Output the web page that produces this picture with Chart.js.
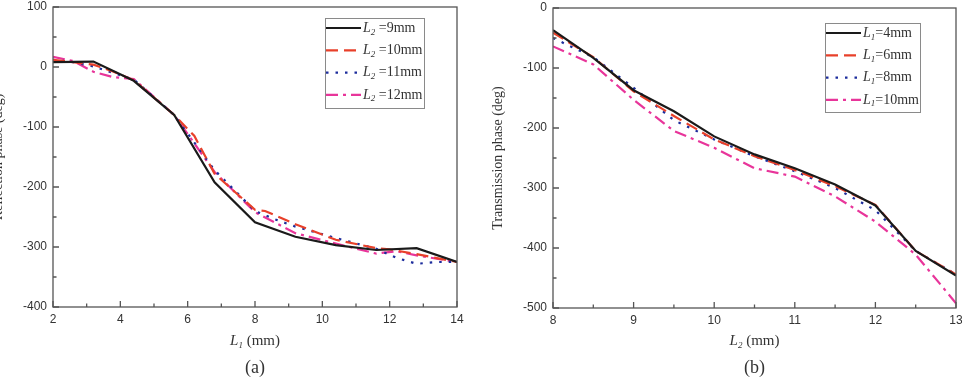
<!DOCTYPE html>
<html>
<head>
<meta charset="utf-8">
<script src="https://cdn.jsdelivr.net/npm/chart.js@4/dist/chart.umd.min.js"></script>
<style>
  html, body { margin: 0; padding: 0; background: #fff; overflow: hidden; }
  body { width: 962px; height: 382px; position: relative; }
  .panel { position: absolute; top: 0; }
  #boxA { left: -10px; }
  #boxB { left: 480px; }
</style>
</head>
<body>
<div class="panel" id="boxA"><canvas id="chartA" width="490" height="382"></canvas></div>
<div class="panel" id="boxB"><canvas id="chartB" width="482" height="382"></canvas></div>
<script>
// ---- panel (a): reflection phase vs L1 ----
var a_labels = ['L2 =9mm', 'L2 =10mm', 'L2 =11mm', 'L2 =12mm'];
var a_x9 = [2, 3.2, 4.4, 5.6, 6.8, 8, 9.2, 10.4, 11.6, 12.8, 14];
var a_y9 = [8, 9, -23, -80, -192, -259, -283, -297, -305, -302, -325];
var a_x10 = [2, 3.2, 3.8, 4.4, 5.6, 6.2, 6.8, 8, 8.3, 9.2, 10.4, 11.6, 12, 12.8, 14];
var a_y10 = [12, 4, -8, -22, -80, -115, -178, -238, -240, -262, -288, -302, -304, -312, -325];
var a_x11 = [2, 2.6, 3.2, 3.8, 4.4, 5.6, 6.8, 8, 8.6, 9.2, 10.4, 11.6, 12.2, 12.8, 13.4, 14];
var a_y11 = [12, 8, 1, -10, -21, -80, -172, -240, -254, -266, -285, -303, -318, -328, -325, -325];
var a_x12 = [2, 2.6, 3.2, 3.8, 4.4, 5.6, 6.8, 8, 9.2, 10.1, 11.6, 12.2, 12.8, 14];
var a_y12 = [17, 10, -8, -17, -20, -80, -175, -242, -277, -290, -311, -307, -314, -325];
var a_xTicks = [2, 4, 6, 8, 10, 12, 14];
var a_yTicks = [100, 0, -100, -200, -300, -400];

// ---- panel (b): transmission phase vs L2 ----
var b_labels = ['L1=4mm', 'L1=6mm', 'L1=8mm', 'L1=10mm'];
var b_x = [8, 8.5, 9, 9.5, 10, 10.5, 11, 11.5, 12, 12.5, 13];
var b_y4 = [-37, -83, -137, -172, -214, -244, -267, -294, -329, -405, -446];
var b_y6 = [-41, -82, -139, -180, -219, -247, -270, -297, -328, -405, -444];
var b_y8 = [-50, -82, -133, -187, -219, -247, -272, -300, -337, -405, -444];
var b_y10 = [-64, -94, -153, -205, -233, -267, -281, -314, -356, -411, -492];
var b_xTicks = [8, 9, 10, 11, 12, 13];
var b_yTicks = [0, -100, -200, -300, -400, -500];

var colors = ['#1a1a1a', '#e8402a', '#1c2c9c', '#e8359a'];
var dashes = [[], [12, 6], [2.5, 7], [12, 5, 3, 5]];
var serif = '"Liberation Serif", "Times New Roman", serif';
var sans = '"Liberation Sans", Arial, sans-serif';

function pts(xs, ys) {
  return xs.map((x, i) => ({ x: x, y: ys[i] }));
}

function makeSets(labels, series) {
  return series.map((s, i) => ({
    label: labels[i],
    data: s,
    borderColor: colors[i],
    borderDash: dashes[i],
    borderWidth: 2.2,
    pointRadius: 0,
    tension: 0,
    fill: false
  }));
}

// L + subscript digit + rest
function drawRich(ctx, str, x, y, size, align) {
  var parts = [
    { t: str[0], f: 'italic ' + size + 'px ' + serif, dy: 0 },
    { t: str[1], f: 'italic ' + Math.round(size * 0.62) + 'px ' + serif, dy: size * 0.3 },
    { t: str.slice(2), f: size + 'px ' + serif, dy: 0 }
  ];
  var w = 0;
  parts.forEach(p => { ctx.font = p.f; p.w = ctx.measureText(p.t).width; w += p.w; });
  var cx = align === 'center' ? x - w / 2 : x;
  ctx.textAlign = 'left';
  ctx.textBaseline = 'middle';
  parts.forEach(p => { ctx.font = p.f; ctx.fillText(p.t, cx, y + p.dy); cx += p.w; });
}

var framePlugin = {
  id: 'frame',
  afterDatasetsDraw(chart, args, opts) {
    var ctx = chart.ctx, a = chart.chartArea;
    var xs = chart.scales.x, ys = chart.scales.y;
    ctx.save();
    ctx.strokeStyle = '#555';
    ctx.lineWidth = 1.3;
    ctx.setLineDash([]);
    ctx.strokeRect(a.left, a.top, a.right - a.left, a.bottom - a.top);
    ctx.beginPath();
    var xt = opts.xTicks, yt = opts.yTicks;
    xt.forEach((v, i) => {
      var p = xs.getPixelForValue(v);
      ctx.moveTo(p, a.bottom); ctx.lineTo(p, a.bottom - 6);
      if (i < xt.length - 1) {
        var m = xs.getPixelForValue((v + xt[i + 1]) / 2);
        ctx.moveTo(m, a.bottom); ctx.lineTo(m, a.bottom - 3.5);
      }
    });
    yt.forEach((v, i) => {
      var p = ys.getPixelForValue(v);
      ctx.moveTo(a.left, p); ctx.lineTo(a.left + 6, p);
      if (i < yt.length - 1) {
        var m = ys.getPixelForValue((v + yt[i + 1]) / 2);
        ctx.moveTo(a.left, m); ctx.lineTo(a.left + 3.5, m);
      }
    });
    ctx.stroke();

    // x title and panel tag
    ctx.fillStyle = '#333';
    var mid = (a.left + a.right) / 2;
    drawRich(ctx, opts.xTitle, mid, 341, 15, 'center');
    ctx.font = '18px ' + serif;
    ctx.textAlign = 'center';
    ctx.textBaseline = 'middle';
    ctx.fillText(opts.tag, mid, 368);

    // legend box
    var bx = a.right - opts.legRight - opts.legW, by = a.top + opts.legTop;
    ctx.strokeStyle = '#8a8a8a';
    ctx.lineWidth = 1;
    ctx.strokeRect(bx + 0.5, by + 0.5, opts.legW, opts.legH);
    chart.data.datasets.forEach((d, i) => {
      var ry = by + 10 + 22.3 * i;
      ctx.beginPath();
      ctx.strokeStyle = d.borderColor;
      ctx.lineWidth = 2.2;
      ctx.setLineDash(d.borderDash);
      ctx.moveTo(bx + 1, ry); ctx.lineTo(bx + 36, ry);
      ctx.stroke();
      ctx.setLineDash([]);
      ctx.fillStyle = '#333';
      drawRich(ctx, d.label, bx + 38, ry, 14, 'left');
    });
    ctx.restore();
  }
};

function buildChart(id, sets, cfg) {
  return new Chart(document.getElementById(id).getContext('2d'), {
    type: 'line',
    data: { datasets: sets },
    plugins: [framePlugin],
    options: {
      responsive: false,
      animation: false,
      layout: { padding: cfg.pad },
      plugins: {
        legend: { display: false },
        tooltip: { enabled: false },
        frame: cfg.frame
      },
      scales: {
        x: {
          type: 'linear',
          min: cfg.xTicks[0],
          max: cfg.xTicks[cfg.xTicks.length - 1],
          afterBuildTicks: s => { s.ticks = cfg.xTicks.map(v => ({ value: v })); },
          afterFit: s => { s.height = cfg.xH; s.paddingLeft = 0; s.paddingRight = 0; },
          grid: { display: false, drawTicks: false },
          border: { display: false },
          ticks: {
            padding: 5,
            autoSkip: false,
            maxRotation: 0,
            color: '#333',
            font: { family: sans, size: 12 },
            callback: v => String(v)
          }
        },
        y: {
          min: cfg.yTicks[cfg.yTicks.length - 1],
          max: cfg.yTicks[0],
          afterBuildTicks: s => { s.ticks = cfg.yTicks.slice().reverse().map(v => ({ value: v })); },
          afterFit: s => { s.width = 63; s.paddingTop = 0; s.paddingBottom = 0; },
          grid: { display: false, drawTicks: false },
          border: { display: false },
          ticks: {
            padding: 6,
            color: '#333',
            font: { family: sans, size: 12 },
            callback: v => String(v)
          },
          title: {
            display: true,
            text: cfg.yTitle,
            color: '#333',
            padding: 0,
            font: { family: serif, size: 14 }
          }
        }
      }
    }
  });
}

var chartA = buildChart('chartA', makeSets(a_labels, [
  pts(a_x9, a_y9), pts(a_x10, a_y10), pts(a_x11, a_y11), pts(a_x12, a_y12)
]), {
  pad: { left: 0, right: 23, top: 7, bottom: 0 },
  xH: 75,
  xTicks: a_xTicks,
  yTicks: a_yTicks,
  yTitle: 'Reflection phase (deg)',
  frame: { xTicks: a_xTicks, yTicks: a_yTicks, xTitle: 'L1 (mm)', tag: '(a)',
           legRight: 33, legTop: 11, legW: 99, legH: 90 }
});

var chartB = buildChart('chartB', makeSets(b_labels, [
  pts(b_x, b_y4), pts(b_x, b_y6), pts(b_x, b_y8), pts(b_x, b_y10)
]), {
  pad: { left: 10, right: 6, top: 8, bottom: 0 },
  xH: 74,
  xTicks: b_xTicks,
  yTicks: b_yTicks,
  yTitle: 'Transmission phase (deg)',
  frame: { xTicks: b_xTicks, yTicks: b_yTicks, xTitle: 'L2 (mm)', tag: '(b)',
           legRight: 36, legTop: 15, legW: 95, legH: 89 }
});
</script>
</body>
</html>
